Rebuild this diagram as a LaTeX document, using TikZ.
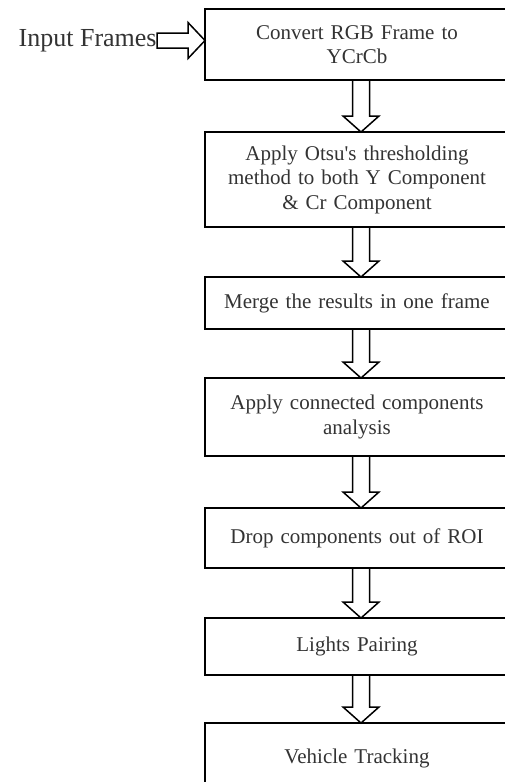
\documentclass[tikz,border=0pt]{standalone}
\usepackage{fontspec}
\setmainfont{Liberation Serif}
\usetikzlibrary{positioning}

% hollow block arrow from the bottom of one box to the top of the next
\newcommand{\blockdown}[2]{%
  \draw[blockarrow] ([xshift=-4.5pt]#1.south) -- ([xshift=-4.5pt,yshift=16pt]#2.north)
    -- ([xshift=-14pt,yshift=16pt]#2.north) -- ([xshift=4pt]#2.north)
    -- ([xshift=22pt,yshift=16pt]#2.north) -- ([xshift=12.5pt,yshift=16pt]#2.north)
    -- ([xshift=12.5pt]#1.south);}

\begin{document}
\begin{tikzpicture}[node distance={50pt}, thick,
    main/.style = {draw, line width=1.8pt, minimum width=304pt, text width=290pt, align=center, inner sep=0pt, outer sep=0pt, font=\fontsize{21}{24.5}\selectfont, text=black!80},
    blockarrow/.style = {draw, line width=1.5pt, line join=miter}]
            \useasboundingbox (0,0) rectangle (505pt,-782pt);
            \node[main, minimum height=71pt] (convert) at (357pt,-44.5pt) {Convert RGB Frame to\\YCrCb};
            \node[main, minimum height=95pt] (otsu) [below=52pt of convert] {Apply Otsu\textquotesingle s thresholding\\method to both Y Component\\\& Cr Component};
            \node[main, minimum height=52pt] (merge) [below=50pt of otsu] {Merge the results in one frame};
            \node[main, minimum height=78pt] (connected) [below=49pt of merge] {Apply connected components\\analysis};
            \node[main, minimum height=60pt] (drop) [below=52pt of connected] {Drop components out of ROI};
            \node[main, minimum height=57pt] (pairing) [below=50pt of drop] {Lights Pairing};
            \node[main, minimum height=70pt] (tracking) [below=48pt of pairing] {Vehicle Tracking};
            \node[font=\fontsize{26}{30}\selectfont, text=black!80, inner sep=0pt, anchor=east] (input) at (157pt,-40.5pt) {Input Frames};
            \coordinate (tip) at (input.east -| convert.west);
            \draw[blockarrow] ([yshift=7.5pt]input.east) -- ([xshift=-17pt,yshift=7.5pt]tip) -- ([xshift=-17pt,yshift=18pt]tip) -- (tip) -- ([xshift=-17pt,yshift=-18pt]tip) -- ([xshift=-17pt,yshift=-7.5pt]tip) -- ([yshift=-7.5pt]input.east) -- cycle;
            \blockdown{convert}{otsu}
            \blockdown{otsu}{merge}
            \blockdown{merge}{connected}
            \blockdown{connected}{drop}
            \blockdown{drop}{pairing}
            \blockdown{pairing}{tracking}
\end{tikzpicture}
\end{document}
